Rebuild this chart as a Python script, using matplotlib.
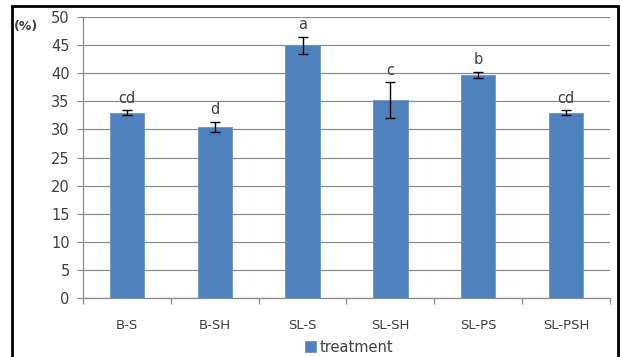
import matplotlib
matplotlib.use("Agg")
import matplotlib.pyplot as plt
from matplotlib.patches import Rectangle

categories = ["B-S", "B-SH", "SL-S", "SL-SH", "SL-PS", "SL-PSH"]
values = [33.0, 30.5, 45.0, 35.2, 39.7, 33.0]
errors = [0.4, 0.9, 1.5, 3.2, 0.6, 0.4]
letters = ["cd", "d", "a", "c", "b", "cd"]
yticks = [0, 5, 10, 15, 20, 25, 30, 35, 40, 45, 50]

bar_color = "#4F81BD"
text_color = "#404040"
grid_color = "#8c8c8c"

fig = plt.figure(figsize=(6.22, 3.57), dpi=100)
ax = fig.add_axes([0.1334, 0.1653, 0.8473, 0.7867])

x = list(range(len(categories)))
ax.bar(x, values, width=0.39, color=bar_color, edgecolor="#6b95c8", linewidth=0.6, zorder=3,
       label="treatment")
ax.errorbar(x, values, yerr=errors, fmt="none", ecolor="black", elinewidth=1.0,
            capsize=3.8, capthick=1.0, zorder=4)

for xi, v, e, lab in zip(x, values, errors, letters):
    ax.text(xi, v + e + 0.8, lab, ha="center", va="bottom", fontsize=10.5, color=text_color)

ax.set_xlim(-0.5, len(categories) - 0.5)
ax.set_ylim(0, 50)
ax.set_yticks(yticks)
ax.set_yticklabels([str(t) for t in yticks], fontsize=10.5, color=text_color)
ax.yaxis.grid(True, color=grid_color, linewidth=0.9, zorder=0)
ax.set_axisbelow(True)

ax.set_xticks(x)
ax.set_xticklabels(categories, fontsize=9.5, color=text_color)
ax.tick_params(axis="x", length=0, pad=15)
ax.set_xticks([i - 0.5 for i in range(len(categories) + 1)], minor=True)
ax.tick_params(axis="x", which="minor", length=4, color=grid_color, width=0.9)
ax.tick_params(axis="y", length=4.5, color=grid_color, width=0.9, pad=5)

for side in ["top", "right"]:
    ax.spines[side].set_visible(False)
for side in ["left", "bottom"]:
    ax.spines[side].set_color(grid_color)
    ax.spines[side].set_linewidth(0.9)

fig.text(0.022, 0.926, "(%)", fontsize=9, fontweight="bold", color=text_color,
         ha="left", va="center")

fig.legend(loc="center", bbox_to_anchor=(0.562, 0.028), frameon=False, fontsize=10.5,
           handlelength=0.7, handleheight=0.7, handletextpad=0.3, labelcolor=text_color)

fig.patches.append(Rectangle((0.0195, -0.05), 0.974, 1.033, transform=fig.transFigure,
                             fill=False, edgecolor="black", linewidth=2.0))

fig.savefig("out.png", dpi=100)
